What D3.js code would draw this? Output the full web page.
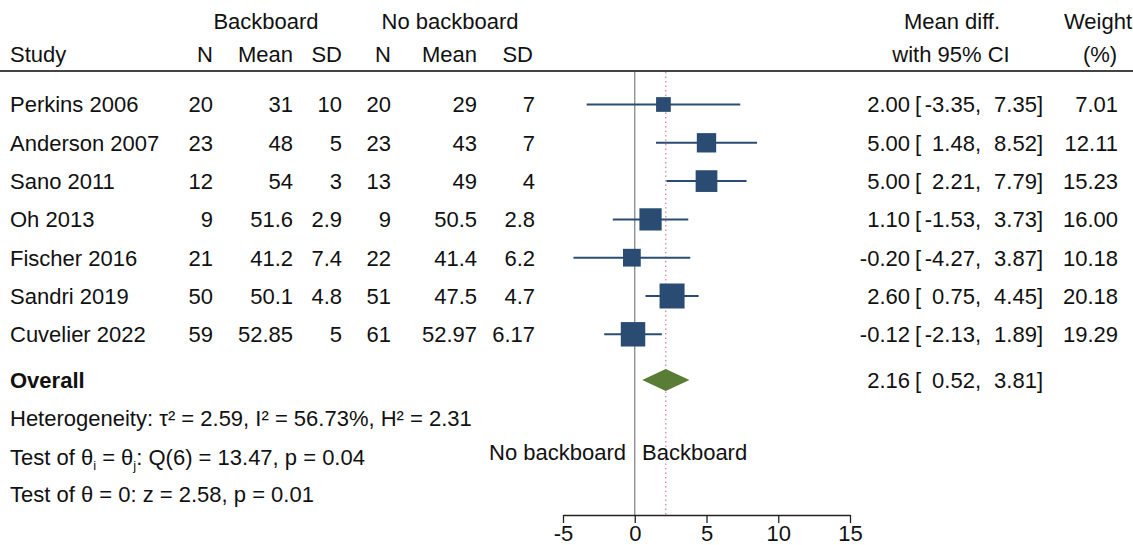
<!DOCTYPE html>
<html><head><meta charset="utf-8">
<script src="https://cdn.jsdelivr.net/npm/d3@7"></script>
<style>
html,body{margin:0;padding:0;background:#fff;}
text{font-family:"Liberation Sans",Arial,Helvetica,sans-serif;font-size:22px;fill:#111;}
</style></head>
<body><svg id="c" width="1133" height="545"></svg>
<script>
const studies = ["Perkins 2006","Anderson 2007","Sano 2011","Oh 2013","Fischer 2016","Sandri 2019","Cuvelier 2022"];
const nB = ["20","23","12","9","21","50","59"];
const meanB = ["31","48","54","51.6","41.2","50.1","52.85"];
const sdB = ["10","5","3","2.9","7.4","4.8","5"];
const nN = ["20","23","13","9","22","51","61"];
const meanN = ["29","43","49","50.5","41.4","47.5","52.97"];
const sdN = ["7","7","4","2.8","6.2","4.7","6.17"];
const md = [2.00,5.00,5.00,1.10,-0.20,2.60,-0.12];
const lo = [-3.35,1.48,2.21,-1.53,-4.27,0.75,-2.13];
const hi = [7.35,8.52,7.79,3.73,3.87,4.45,1.89];
const weight = [7.01,12.11,15.23,16.00,10.18,20.18,19.29];
const overall = {md:2.16, lo:0.52, hi:3.81};
const xTicks = [-5,0,5,10,15];

const svg = d3.select("#c");
const x = d3.scaleLinear().domain([-5,15]).range([563,850]);
const rowY = d3.scaleLinear().domain([0,1]).range([104.5,142.8]);
const size = d3.scaleSqrt().domain([0,20.18]).range([0,25]);
const f2 = v => v.toFixed(2);
const off = 7.8;
const blue = "#2b4c72", green = "#5a7d35";

// headers
const hdr = svg.append("g");
hdr.append("text").attr("x",266).attr("y",21+off).attr("text-anchor","middle").text("Backboard");
hdr.append("text").attr("x",450).attr("y",21+off).attr("text-anchor","middle").text("No backboard");
hdr.append("text").attr("x",952).attr("y",21+off).attr("text-anchor","middle").text("Mean diff.");
hdr.append("text").attr("x",1132).attr("y",21+off).attr("text-anchor","end").text("Weight");
const h2y = 54+off;
hdr.append("text").attr("x",10).attr("y",h2y).text("Study");
[["N",213],["Mean",293],["SD",342],["N",391],["Mean",477],["SD",533]].forEach(([t,xx])=>
  hdr.append("text").attr("x",xx).attr("y",h2y).attr("text-anchor","end").text(t));
hdr.append("text").attr("x",951).attr("y",h2y).attr("text-anchor","middle").text("with 95% CI");
hdr.append("text").attr("x",1100).attr("y",h2y).attr("text-anchor","middle").text("(%)");
svg.append("line").attr("x1",0).attr("x2",1133).attr("y1",71).attr("y2",71).attr("stroke","#444").attr("stroke-width",2);

// reference lines
svg.append("line").attr("x1",x(0)).attr("x2",x(0)).attr("y1",72).attr("y2",515).attr("stroke","#888").attr("stroke-width",1.3);
svg.append("line").attr("x1",x(overall.md)).attr("x2",x(overall.md)).attr("y1",72).attr("y2",515)
  .attr("stroke","#e07a90").attr("stroke-width",1.2).attr("stroke-dasharray","1.5,3");

// rows
const cols = [[nB,213],[meanB,293],[sdB,342],[nN,391],[meanN,477],[sdN,535]];
studies.forEach((s,i)=>{
  const y = rowY(i);
  svg.append("text").attr("x",10).attr("y",y+off).text(s);
  cols.forEach(([arr,xx])=>svg.append("text").attr("x",xx).attr("y",y+off).attr("text-anchor","end").text(arr[i]));
  svg.append("line").attr("x1",x(lo[i])).attr("x2",x(hi[i])).attr("y1",y).attr("y2",y).attr("stroke",blue).attr("stroke-width",2);
  const sz = size(weight[i]);
  svg.append("rect").attr("x",x(md[i])-sz/2).attr("y",y-sz/2).attr("width",sz).attr("height",sz).attr("fill",blue);
  svg.append("text").attr("x",910).attr("y",y+off).attr("text-anchor","end").text(f2(md[i]));
  svg.append("text").attr("x",915).attr("y",y+off).text("[");
  svg.append("text").attr("x",981).attr("y",y+off).attr("text-anchor","end").text(f2(lo[i])+",");
  svg.append("text").attr("x",1043).attr("y",y+off).attr("text-anchor","end").text(f2(hi[i])+"]");
  svg.append("text").attr("x",1118).attr("y",y+off).attr("text-anchor","end").text(f2(weight[i]));
});

// overall
const oy = 380;
svg.append("text").attr("x",10).attr("y",oy+off).attr("font-weight","bold").text("Overall");
svg.append("path").attr("fill",green)
  .attr("d",`M${x(overall.lo)},${oy}L${x(overall.md)},${oy-11}L${x(overall.hi)},${oy}L${x(overall.md)},${oy+11}Z`);
svg.append("text").attr("x",910).attr("y",oy+off).attr("text-anchor","end").text(f2(overall.md));
svg.append("text").attr("x",915).attr("y",oy+off).text("[");
svg.append("text").attr("x",981).attr("y",oy+off).attr("text-anchor","end").text(f2(overall.lo)+",");
svg.append("text").attr("x",1043).attr("y",oy+off).attr("text-anchor","end").text(f2(overall.hi)+"]");

// stats
svg.append("text").attr("x",10).attr("y",418+off).text("Heterogeneity: τ² = 2.59, I² = 56.73%, H² = 2.31");
const t1 = svg.append("text").attr("x",10).attr("y",457+off);
t1.append("tspan").text("Test of θ");
t1.append("tspan").attr("font-size",13).attr("dy",5).text("i");
t1.append("tspan").attr("dy",-5).text(" = θ");
t1.append("tspan").attr("font-size",13).attr("dy",5).text("j");
t1.append("tspan").attr("dy",-5).text(": Q(6) = 13.47, p = 0.04");
svg.append("text").attr("x",10).attr("y",494+off).text("Test of θ = 0: z = 2.58, p = 0.01");

svg.append("text").attr("x",626).attr("y",452+off).attr("text-anchor","end").text("No backboard");
svg.append("text").attr("x",642).attr("y",452+off).text("Backboard");

// axis
const ax = svg.append("g").attr("transform","translate(0,515)")
  .call(d3.axisBottom(x).tickValues(xTicks).tickFormat(d=>String(d)).tickSize(8).tickPadding(2).tickSizeOuter(0));
ax.select(".domain").attr("stroke","#222").attr("stroke-width",1.3);
ax.selectAll(".tick line").attr("stroke","#222").attr("stroke-width",1.3);
ax.selectAll(".tick text").style("font-size","22px").style("font-family","Liberation Sans, Arial, sans-serif").attr("fill","#111");
</script></body></html>
